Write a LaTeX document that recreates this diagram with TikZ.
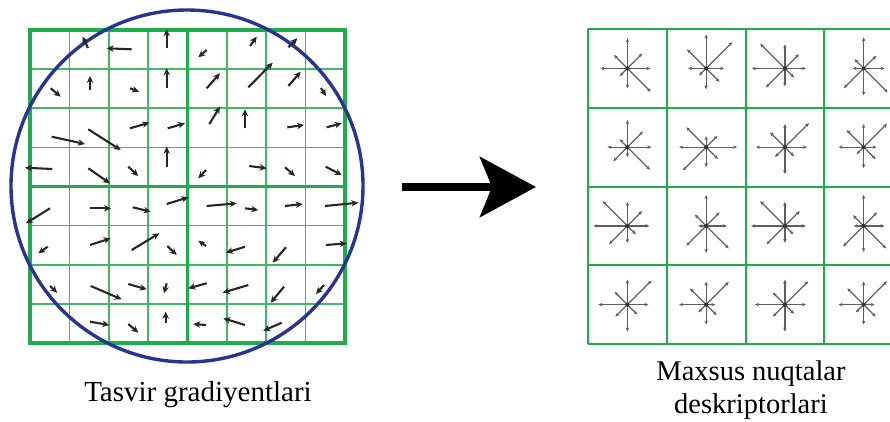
\documentclass[tikz,border=0pt]{standalone}
\usepackage{fontspec}
\setmainfont{Liberation Serif}
\usetikzlibrary{arrows.meta}

\definecolor{verde}{RGB}{30,172,76}
\definecolor{blu}{RGB}{40,52,148}
\definecolor{grigio}{RGB}{95,95,95}

% istogramma a stella: centro x, centro y, lunghezze E,NE,N,NW,W,SW,S,SE
\newcommand{\istogramma}[3]{%
  \foreach \len [count=\k from 0] in {#3}
    \draw[bin] (#1,#2) -- ++(-45*\k:\len);
  \fill[black!80] (#1,#2) circle (2);
}

\begin{document}
\begin{tikzpicture}[x=1pt,y=-1pt,
    grad/.style={draw=black!85, line width=2.1pt, -{Stealth[length=7pt,width=6.5pt]}},
    bin/.style={draw=grigio, line width=1.2pt, -{Stealth[length=4pt,width=3.5pt]}},
    cella/.style={draw=verde, line width=2pt}]
    \clip (0,0) rectangle (890,421);

    % Griglia dei gradienti (8 x 8)
    \foreach \i in {1,2,3,5,6,7} {
        \draw[verde!85, line width=1.6pt] (30+39.375*\i,30) -- (30+39.375*\i,343);
        \draw[verde!85, line width=1.6pt] (30,30+39.125*\i) -- (345,30+39.125*\i);
    }
    \draw[verde, line width=3.8pt] (187.5,30) -- (187.5,343);
    \draw[verde, line width=3.8pt] (30,186.5) -- (345,186.5);
    \draw[verde, line width=3.8pt] (30,30) rectangle (345,343);

    % Finestra gaussiana
    \draw[blu, line width=3.4pt] (187,186) circle (176);

    % Vettori gradiente (coda / punta)
    \foreach \xa/\ya/\xb/\yb in {
        88/48/82.7/36.7, 131.7/49.3/106.7/48.3, 166.7/48.3/166.7/29.3,
        50.7/88.3/60.7/96.7, 90/90/90/76, 130/88.3/139/91.7, 166.7/88.3/166.7/68.3,
        51.7/136.7/85/144, 88.3/129.3/120.7/150, 130/128.3/149.3/122.7, 167.7/128.3/185/123.3,
        52.3/169/25/167.7, 88.3/168.3/110/183.3, 128.3/166.7/138.3/176, 166.7/166.7/166.7/146.7,
        206.7/50/198.3/57.3, 250/46/256.7/36.7, 288.3/47.3/297.3/38.3,
        206.7/88.3/220/73.3, 248.3/87.3/272.7/62.7, 288.3/86/300.7/71.7, 321/88/326/96,
        209.3/124/220/106.7, 245/128.3/245/109.3, 287.3/127.3/304/125, 326.7/127.3/341.7/123.3,
        206/170/198.3/178.3, 249.3/166/266.7/168.3, 285/167.3/295/176, 325.7/166.7/341.7/175,
        50/208.3/26/223.3, 90/208.3/111/208.3, 132.7/207.3/150.7/211.7, 166.7/204/188.3/197.3,
        47.7/246.7/38.3/253.3, 90/245/110.7/238.3, 131.7/250/159.3/233.3, 167.3/246/176.7/255,
        50/286/57.3/292.7, 90.7/286/121.7/299.3, 128.3/284/146.7/289.3, 166.7/283.3/164/293.3,
        90/321.7/109.3/325, 128.3/324/138.3/332.7, 165.7/323.3/165.7/311.7,
        206.7/206/236.7/203.3, 245/208.3/258.3/210, 285/206/302.7/204, 325/206/358.3/202.7,
        206/246/198.3/240.7, 245/246.7/226/252.7, 286/247.3/272.7/262.7, 326/245/346.7/243.3,
        206.7/283.3/188.3/288.3, 248.3/285/222.7/292.7, 284/286.7/270.7/302.7, 324/285/316/294,
        206/325/193.3/324, 245/325/223.3/318.3, 281.7/322.7/263.3/330.7}
        \draw[grad] (\xa,\ya) -- (\xb,\yb);

    % Freccia centrale
    \coordinate (gradienti) at (402,187);
    \coordinate (descrittori) at (536,187);
    \draw[line width=8pt, -{Stealth[length=56pt,width=60pt,inset=12pt]}] (gradienti) -- (descrittori);

    % Griglia dei descrittori (4 x 4)
    \foreach \i in {0,...,4} {
        \draw[cella] (588+78.75*\i,29) -- (588+78.75*\i,344);
        \draw[cella] (588,29+78.75*\i) -- (903,29+78.75*\i);
    }

    % Istogrammi orientati (una riga alla volta)
    \istogramma{627.4}{68.4}{23,21,30,19,27,11,20,33}
    \istogramma{706.1}{68.4}{18,37,34,27,18,10,21,19}
    \istogramma{784.9}{68.4}{21,20,24,35,33,27,18,13}
    \istogramma{863.6}{68.4}{21,18,31,13,11,28,27,34}

    \istogramma{627.4}{147.1}{24,22,27,11,20,20,10,32}
    \istogramma{706.1}{147.1}{31,16,11,28,27,33,20,17}
    \istogramma{784.9}{147.1}{22,34,23,21,29,14,27,13}
    \istogramma{863.6}{147.1}{13,33,23,24,25,10,21,17}

    \istogramma{627.4}{225.9}{22,21,24,35,34,26,17,12}
    \istogramma{706.1}{225.9}{21,19,31,16,8,28,27,32}
    \istogramma{784.9}{225.9}{21,21,24,35,34,26,17,12}
    \istogramma{863.6}{225.9}{21,19,31,15,10,29,26,32}

    \istogramma{627.4}{304.6}{21,34,25,18,29,17,27,14}
    \istogramma{706.1}{304.6}{9,32,23,23,27,11,20,15}
    \istogramma{784.9}{304.6}{21,33,25,17,30,17,27,13}
    \istogramma{863.6}{304.6}{11,33,23,23,25,11,20,17}

    % Didascalie
    \node[anchor=base, font=\fontsize{29}{35}\selectfont] (tgrad) at (198,401.7) {Tasvir gradiyentlari};
    \node[anchor=base, font=\fontsize{28.5}{35}\selectfont] (tdesc1) at (751,380.5) {Maxsus nuqtalar};
    \node[anchor=base, font=\fontsize{28.5}{35}\selectfont] (tdesc2) at (751,413.5) {deskriptorlari};

\end{tikzpicture}
\end{document}
